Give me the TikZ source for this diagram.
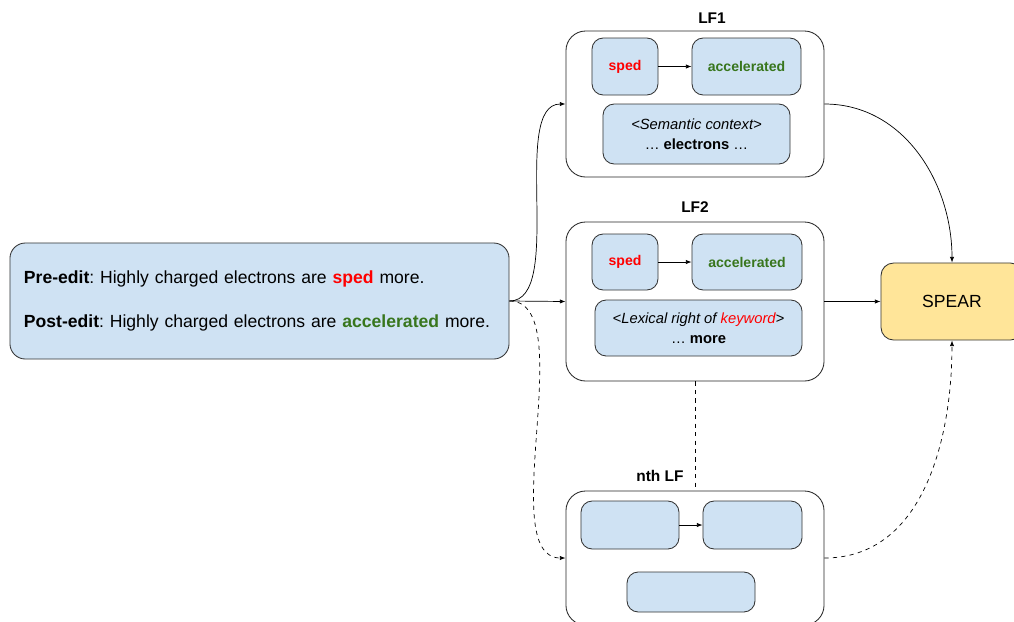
\documentclass[tikz,border=0pt]{standalone}
\usepackage{fontspec}
\setmainfont{Liberation Sans}
\usetikzlibrary{arrows.meta}
\definecolor{boxblue}{HTML}{CFE2F3}
\definecolor{spearyellow}{HTML}{FFE599}
\definecolor{editred}{HTML}{FF0000}
\definecolor{editgreen}{HTML}{38761D}
\frenchspacing
\begin{document}
\begin{tikzpicture}[x=0.025cm,y=-0.025cm,
    inbox/.style={draw=black!80,fill=boxblue,rounded corners=8pt,line width=0.6pt},
    lfbox/.style={draw=black!85,fill=white,rounded corners=14pt,line width=0.6pt},
    spearbox/.style={draw=black!80,fill=spearyellow,rounded corners=9pt,line width=0.6pt},
    lflabel/.style={font=\bfseries\fontsize{11}{13}\selectfont},
    arr/.style={-{Latex[length=4pt,width=3pt]},line width=0.5pt},
    every node/.style={inner sep=0pt}]
    \useasboundingbox (0,0) rectangle (1014,621);
    \clip (0,0) rectangle (1014,621);

    % input sentences
    \node[inbox,rounded corners=11pt,minimum width=12.475cm,minimum height=2.9cm,text width=11.775cm,align=left,
          font=\fontsize{12.5}{14}\selectfont] (in) at (259.5,301)
        {\textbf{Pre-edit}: Highly charged electrons are \textcolor{editred}{\textbf{sped}} more.\\[17pt]
         \textbf{Post-edit}: Highly charged electrons are \textcolor{editgreen}{\textbf{accelerated}} more.};

    % LF1
    \node[lfbox,minimum width=6.45cm,minimum height=3.65cm] (lf1) at (695,104) {};
    \node[lflabel] at (712,18) {LF1};
    \node[inbox,minimum width=1.65cm,minimum height=1.425cm,font=\bfseries\fontsize{10}{12}\selectfont,text=editred] (sped1) at (625,66.5) {sped};
    \node[inbox,minimum width=2.725cm,minimum height=1.425cm,font=\bfseries\fontsize{10}{12}\selectfont,text=editgreen] (acc1) at (746.5,66.5) {accelerated};
    \node[inbox,minimum width=4.675cm,minimum height=1.5cm,align=center,font=\fontsize{10.5}{14}\selectfont] (sem1) at (696.5,134)
        {\textit{<Semantic context>}\\… \textbf{electrons} …};

    % LF2
    \node[lfbox,minimum width=6.45cm,minimum height=3.975cm] (lf2) at (695,301.5) {};
    \node[lflabel] at (695,207) {LF2};
    \node[inbox,minimum width=1.65cm,minimum height=1.4cm,font=\bfseries\fontsize{10}{12}\selectfont,text=editred] (sped2) at (625,262) {sped};
    \node[inbox,minimum width=2.75cm,minimum height=1.4cm,font=\bfseries\fontsize{10}{12}\selectfont,text=editgreen] (acc2) at (747,262) {accelerated};
    \node[inbox,minimum width=5.175cm,minimum height=1.4cm,align=center,font=\fontsize{10.5}{14}\selectfont] (lex2) at (698.5,328)
        {\textit{<Lexical right of \textcolor{editred}{keyword}>}\\… \textbf{more}};

    % nth LF
    \node[lfbox,minimum width=6.45cm,minimum height=3.35cm] (lfn) at (695,558) {};
    \node[lflabel] at (660,476) {nth LF};
    \node[inbox,minimum width=2.45cm,minimum height=1.2cm] (bn1) at (630,525) {};
    \node[inbox,minimum width=2.475cm,minimum height=1.2cm] (bn2) at (752.5,525) {};
    \node[inbox,minimum width=3.2cm,minimum height=1.0cm] (bn3) at (691,592) {};

    % SPEAR
    \node[spearbox,minimum width=3.55cm,minimum height=1.925cm,font=\fontsize{12.5}{14}\selectfont] (spear) at (952,301.5) {SPEAR};

    \draw[arr] (sped1) -- (acc1);
    \draw[arr] (sped2) -- (acc2);
    \draw[arr] (bn1) -- (bn2);

    \draw[arr] (in.east) to[out=0,in=180,looseness=0.7] (lf1.west);
    \draw[arr] (in.east) -- (lf2.west);
    \draw[arr,dashed] (in.east) to[out=0,in=180,looseness=0.7] (lfn.west);
    \draw[dashed,line width=0.5pt] (lf2.south) -- (lfn.north);

    \draw[arr] (lf1.east) to[out=0,in=90] (spear.north);
    \draw[arr] (lf2.east) -- (spear.west);
    \draw[arr,dashed] (lfn.east) to[out=0,in=270] (spear.south);
\end{tikzpicture}
\end{document}
